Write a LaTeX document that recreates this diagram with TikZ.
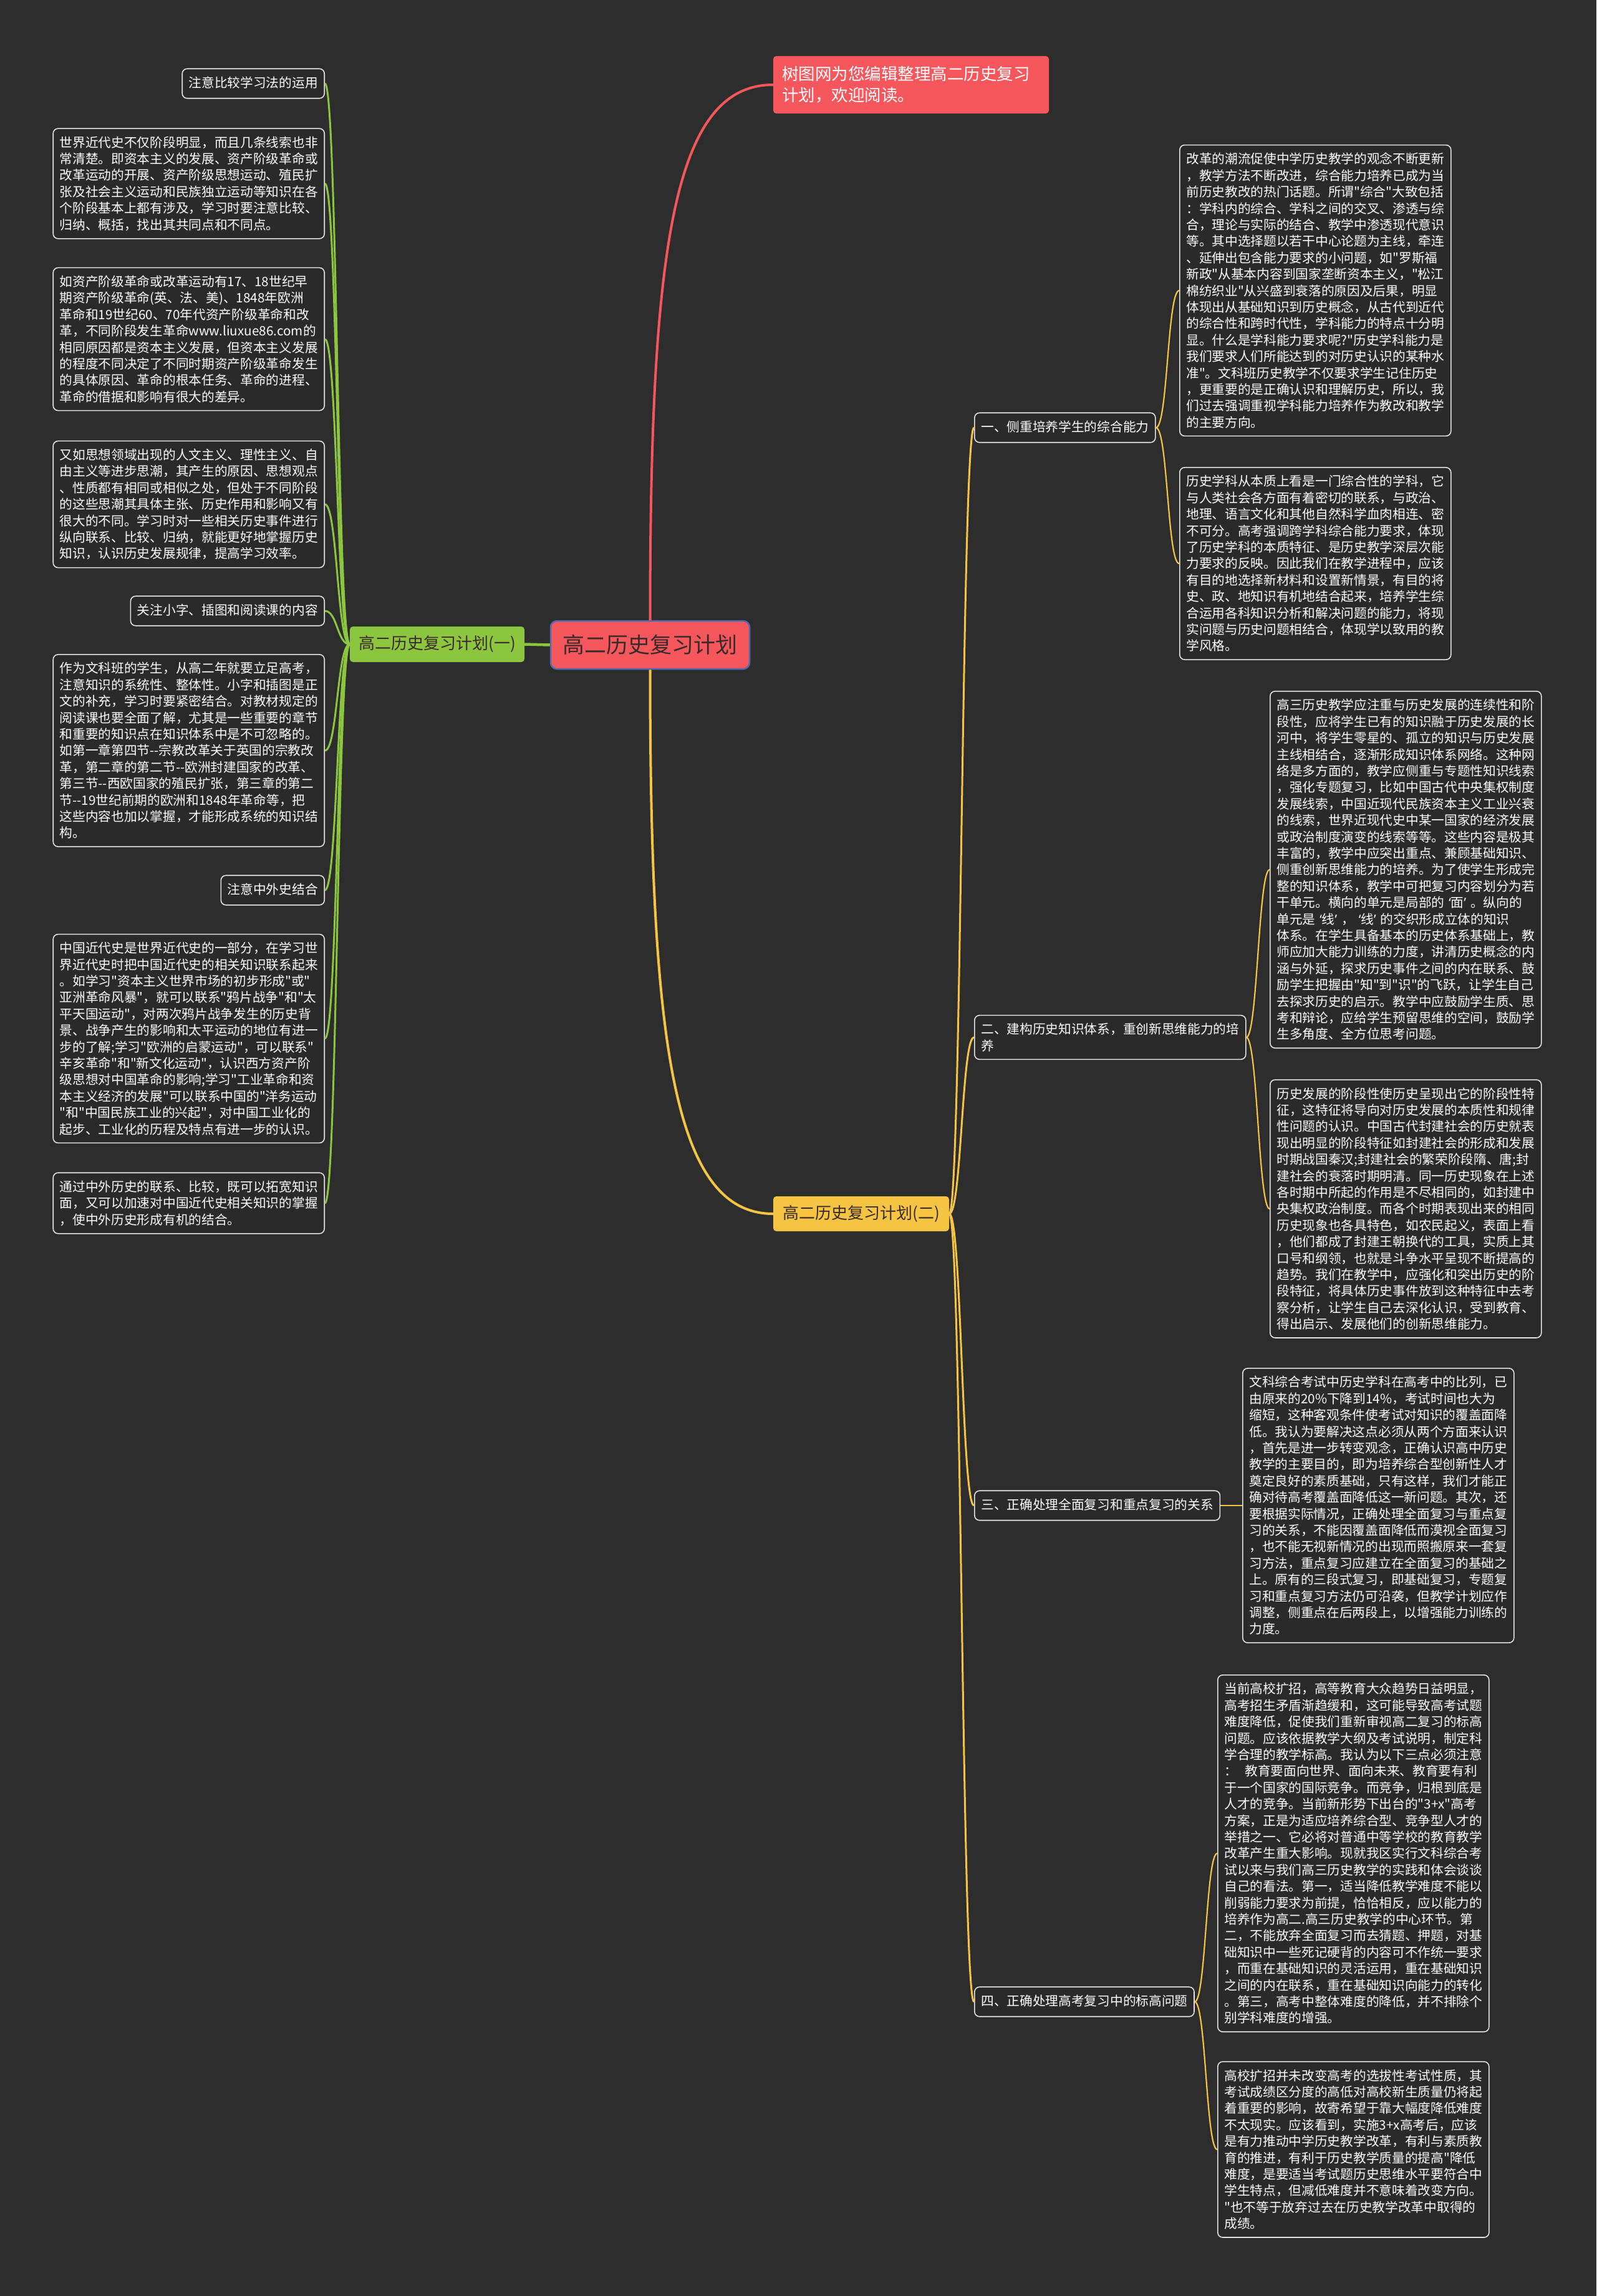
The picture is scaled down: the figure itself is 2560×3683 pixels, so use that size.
\documentclass[tikz,border=0pt]{standalone}
\usepackage{fontspec}
\newfontfamily\cjk{Noto Sans CJK SC}
\newfontfamily\lat{Noto Sans}
\newcommand{\myLq}{{\lat ‘}}
\newcommand{\myRq}{{\lat ’}}
\definecolor{bg}{HTML}{2D2D2D}
\definecolor{boxfill}{HTML}{2A2A2A}
\definecolor{boxline}{HTML}{E4E4E4}
\definecolor{redc}{HTML}{F5575C}
\definecolor{bluec}{HTML}{5468B0}
\definecolor{grn}{HTML}{8CC63F}
\definecolor{ylw}{HTML}{F6C443}
\definecolor{darktxt}{HTML}{3A2A2A}
\tikzset{
  txt/.style={draw=boxline, fill=boxfill, line width=1.6pt, rounded corners=8pt,
    text=white, font=\cjk\fontsize{20.7}{26.4}\selectfont, inner xsep=10.5pt, inner ysep=12.5pt, align=left},
  para/.style={txt, text width=414pt},
  lab/.style={txt, text height=17.5pt, text depth=5pt},
  gl/.style={draw=grn, line width=3pt},
  yl/.style={draw=ylw, line width=3pt},
  yl2/.style={draw=ylw, line width=2.2pt},
}
\begin{document}
\begin{tikzpicture}[x=1pt,y=-1pt]
\cjk
\fill[bg] (0,0) rectangle (2560,3683);
\useasboundingbox (0,0) rectangle (2560,3683);

% central and main nodes
\node[fill=redc, draw=bluec, line width=2.5pt, rounded corners=10pt, text=darktxt,
  font=\cjk\fontsize{35}{42}\selectfont, minimum width=319pt, minimum height=77pt, inner sep=0pt]
  (c) at (1042.5,1034.5) {高二历史复习计划};
\node[fill=redc, rounded corners=5pt, text=white, font=\cjk\fontsize{26.5}{34}\selectfont,
  text width=414pt, inner xsep=14pt, inner ysep=16.5pt, align=left]
  (t) at (1461,136) {树图网为您编辑整理高二历史复习\\计划，欢迎阅读。};
\node[fill=grn, rounded corners=5pt, text=darktxt, font=\cjk\fontsize{26}{32}\selectfont,
  minimum width=280pt, minimum height=57pt, inner sep=0pt]
  (g) at (701,1033.5) {高二历史复习计划(一)};
\node[fill=ylw, rounded corners=5pt, text=darktxt, font=\cjk\fontsize{26}{32}\selectfont,
  minimum width=282pt, minimum height=56pt, inner sep=0pt]
  (y) at (1381,1947) {高二历史复习计划(二)};

% left children
\node[lab, anchor=east] (A) at (521,134) {注意比较学习法的运用};
\node[para, anchor=east] (B) at (521,294.5) {世界近代史不仅阶段明显，而且几条线索也非\\
常清楚。即资本主义的发展、资产阶级革命或\\
改革运动的开展、资产阶级思想运动、殖民扩\\
张及社会主义运动和民族独立运动等知识在各\\
个阶段基本上都有涉及，学习时要注意比较、\\
归纳、概括，找出其共同点和不同点。};
\node[para, anchor=east] (C) at (521,544) {如资产阶级革命或改革运动有17、18世纪早\\
期资产阶级革命(英、法、美)、1848年欧洲\\
革命和19世纪60、70年代资产阶级革命和改\\
革，不同阶段发生革命www.liuxue86.com的\\
相同原因都是资本主义发展，但资本主义发展\\
的程度不同决定了不同时期资产阶级革命发生\\
的具体原因、革命的根本任务、革命的进程、\\
革命的借据和影响有很大的差异。};
\node[para, anchor=east] (D) at (521,809) {又如思想领域出现的人文主义、理性主义、自\\
由主义等进步思潮，其产生的原因、思想观点\\
、性质都有相同或相似之处，但处于不同阶段\\
的这些思潮其具体主张、历史作用和影响又有\\
很大的不同。学习时对一些相关历史事件进行\\
纵向联系、比较、归纳，就能更好地掌握历史\\
知识，认识历史发展规律，提高学习效率。};
\node[lab, anchor=east] (E) at (521,980) {关注小字、插图和阅读课的内容};
\node[para, anchor=east] (F) at (521,1204) {作为文科班的学生，从高二年就要立足高考，\\
注意知识的系统性、整体性。小字和插图是正\\
文的补充，学习时要紧密结合。对教材规定的\\
阅读课也要全面了解，尤其是一些重要的章节\\
和重要的知识点在知识体系中是不可忽略的。\\
如第一章第四节-{}-宗教改革关于英国的宗教改\\
革，第二章的第二节-{}-欧洲封建国家的改革、\\
第三节-{}-西欧国家的殖民扩张，第三章的第二\\
节-{}-19世纪前期的欧洲和1848年革命等，把\\
这些内容也加以掌握，才能形成系统的知识结\\
构。};
\node[lab, anchor=east] (G) at (521,1428) {注意中外史结合};
\node[para, anchor=east] (H) at (521,1666) {中国近代史是世界近代史的一部分，在学习世\\
界近代史时把中国近代史的相关知识联系起来\\
。如学习"资本主义世界市场的初步形成"或"\\
亚洲革命风暴"，就可以联系"鸦片战争"和"太\\
平天国运动"，对两次鸦片战争发生的历史背\\
景、战争产生的影响和太平运动的地位有进一\\
步的了解;学习"欧洲的启蒙运动"，可以联系"\\
辛亥革命"和"新文化运动"，认识西方资产阶\\
级思想对中国革命的影响;学习"工业革命和资\\
本主义经济的发展"可以联系中国的"洋务运动\\
"和"中国民族工业的兴起"，对中国工业化的\\
起步、工业化的历程及特点有进一步的认识。};
\node[para, anchor=east] (I) at (521,1930) {通过中外历史的联系、比较，既可以拓宽知识\\
面，又可以加速对中国近代史相关知识的掌握\\
，使中外历史形成有机的结合。};

% right labels
\node[lab, anchor=west] (L1) at (1562,686) {一、侧重培养学生的综合能力};
\node[para, anchor=west] (L2) at (1562,1664) {二、建构历史知识体系，重创新思维能力的培\\养};
\node[lab, anchor=west] (L3) at (1562,2415) {三、正确处理全面复习和重点复习的关系};
\node[lab, anchor=west] (L4) at (1562,3211) {四、正确处理高考复习中的标高问题};

% right paragraphs
\node[para, anchor=west] (R1) at (1891,466) {改革的潮流促使中学历史教学的观念不断更新\\
，教学方法不断改进，综合能力培养已成为当\\
前历史教改的热门话题。所谓"综合"大致包括\\
：学科内的综合、学科之间的交叉、渗透与综\\
合，理论与实际的结合、教学中渗透现代意识\\
等。其中选择题以若干中心论题为主线，牵连\\
、延伸出包含能力要求的小问题，如"罗斯福\\
新政"从基本内容到国家垄断资本主义，"松江\\
棉纺织业"从兴盛到衰落的原因及后果，明显\\
体现出从基础知识到历史概念，从古代到近代\\
的综合性和跨时代性，学科能力的特点十分明\\
显。什么是学科能力要求呢?"历史学科能力是\\
我们要求人们所能达到的对历史认识的某种水\\
准"。文科班历史教学不仅要求学生记住历史\\
，更重要的是正确认识和理解历史，所以，我\\
们过去强调重视学科能力培养作为教改和教学\\
的主要方向。};
\node[para, anchor=west] (R2) at (1891,904) {历史学科从本质上看是一门综合性的学科，它\\
与人类社会各方面有着密切的联系，与政治、\\
地理、语言文化和其他自然科学血肉相连、密\\
不可分。高考强调跨学科综合能力要求，体现\\
了历史学科的本质特征、是历史教学深层次能\\
力要求的反映。因此我们在教学进程中，应该\\
有目的地选择新材料和设置新情景，有目的将\\
史、政、地知识有机地结合起来，培养学生综\\
合运用各科知识分析和解决问题的能力，将现\\
实问题与历史问题相结合，体现学以致用的教\\
学风格。};
\node[para, anchor=west] (R3) at (2036,1395) {高三历史教学应注重与历史发展的连续性和阶\\
段性，应将学生已有的知识融于历史发展的长\\
河中，将学生零星的、孤立的知识与历史发展\\
主线相结合，逐渐形成知识体系网络。这种网\\
络是多方面的，教学应侧重与专题性知识线索\\
，强化专题复习，比如中国古代中央集权制度\\
发展线索，中国近现代民族资本主义工业兴衰\\
的线索，世界近现代史中某一国家的经济发展\\
或政治制度演变的线索等等。这些内容是极其\\
丰富的，教学中应突出重点、兼顾基础知识、\\
侧重创新思维能力的培养。为了使学生形成完\\
整的知识体系，教学中可把复习内容划分为若\\
干单元。横向的单元是局部的~\myLq 面\myRq~。纵向的\\
单元是~\myLq 线\myRq~，~\myLq 线\myRq~的交织形成立体的知识\\
体系。在学生具备基本的历史体系基础上，教\\
师应加大能力训练的力度，讲清历史概念的内\\
涵与外延，探求历史事件之间的内在联系、鼓\\
励学生把握由"知"到"识"的飞跃，让学生自己\\
去探求历史的启示。教学中应鼓励学生质、思\\
考和辩论，应给学生预留思维的空间，鼓励学\\
生多角度、全方位思考问题。};
\node[para, anchor=west] (R4) at (2036,1939) {历史发展的阶段性使历史呈现出它的阶段性特\\
征，这特征将导向对历史发展的本质性和规律\\
性问题的认识。中国古代封建社会的历史就表\\
现出明显的阶段特征如封建社会的形成和发展\\
时期战国秦汉;封建社会的繁荣阶段隋、唐;封\\
建社会的衰落时期明清。同一历史现象在上述\\
各时期中所起的作用是不尽相同的，如封建中\\
央集权政治制度。而各个时期表现出来的相同\\
历史现象也各具特色，如农民起义，表面上看\\
，他们都成了封建王朝换代的工具，实质上其\\
口号和纲领，也就是斗争水平呈现不断提高的\\
趋势。我们在教学中，应强化和突出历史的阶\\
段特征，将具体历史事件放到这种特征中去考\\
察分析，让学生自己去深化认识，受到教育、\\
得出启示、发展他们的创新思维能力。};
\node[para, anchor=west] (R5) at (1992,2415) {文科综合考试中历史学科在高考中的比列，已\\
由原来的20\%下降到14\%，考试时间也大为\\
缩短，这种客观条件使考试对知识的覆盖面降\\
低。我认为要解决这点必须从两个方面来认识\\
，首先是进一步转变观念，正确认识高中历史\\
教学的主要目的，即为培养综合型创新性人才\\
奠定良好的素质基础，只有这样，我们才能正\\
确对待高考覆盖面降低这一新问题。其次，还\\
要根据实际情况，正确处理全面复习与重点复\\
习的关系，不能因覆盖面降低而漠视全面复习\\
，也不能无视新情况的出现而照搬原来一套复\\
习方法，重点复习应建立在全面复习的基础之\\
上。原有的三段式复习，即基础复习，专题复\\
习和重点复习方法仍可沿袭，但教学计划应作\\
调整，侧重点在后两段上，以增强能力训练的\\
力度。};
\node[para, anchor=west] (R6) at (1952,2973) {当前高校扩招，高等教育大众趋势日益明显，\\
高考招生矛盾渐趋缓和，这可能导致高考试题\\
难度降低，促使我们重新审视高二复习的标高\\
问题。应该依据教学大纲及考试说明，制定科\\
学合理的教学标高。我认为以下三点必须注意\\
：\hspace{0.6em}教育要面向世界、面向未来、教育要有利\\
于一个国家的国际竞争。而竞争，归根到底是\\
人才的竞争。当前新形势下出台的"3+x"高考\\
方案，正是为适应培养综合型、竞争型人才的\\
举措之一、它必将对普通中等学校的教育教学\\
改革产生重大影响。现就我区实行文科综合考\\
试以来与我们高三历史教学的实践和体会谈谈\\
自己的看法。第一，适当降低教学难度不能以\\
削弱能力要求为前提，恰恰相反，应以能力的\\
培养作为高二.高三历史教学的中心环节。第\\
二，不能放弃全面复习而去猜题、押题，对基\\
础知识中一些死记硬背的内容可不作统一要求\\
，而重在基础知识的灵活运用，重在基础知识\\
之间的内在联系，重在基础知识向能力的转化\\
。第三，高考中整体难度的降低，并不排除个\\
别学科难度的增强。};
\node[para, anchor=west] (R7) at (1952,3448) {高校扩招并未改变高考的选拔性考试性质，其\\
考试成绩区分度的高低对高校新生质量仍将起\\
着重要的影响，故寄希望于靠大幅度降低难度\\
不太现实。应该看到，实施3+x高考后，应该\\
是有力推动中学历史教学改革，有利与素质教\\
育的推进，有利于历史教学质量的提高"降低\\
难度，是要适当考试题历史思维水平要符合中\\
学生特点，但减低难度并不意味着改变方向。\\
"也不等于放弃过去在历史教学改革中取得的\\
成绩。};

% connectors
\draw[draw=grn, line width=4.5pt] (c.west) -- (g.east);
\draw[draw=redc, line width=4pt] (c.north) .. controls +(0,-600) and +(-160,0) .. (t.west);
\draw[draw=ylw, line width=4pt] (c.south) .. controls +(0,600) and +(-160,0) .. (y.west);
\foreach \n in {A,B,C,D,E,F,G,H,I}
  \draw[gl] (g.west) .. controls +(-20,0) and +(20,0) .. (\n.east);
\foreach \n in {L1,L2,L3,L4}
  \draw[yl] (y.east) .. controls +(20,0) and +(-20,0) .. (\n.west);
\draw[yl2] (L1.east) .. controls +(19,0) and +(-19,0) .. (R1.west);
\draw[yl2] (L1.east) .. controls +(19,0) and +(-19,0) .. (R2.west);
\draw[yl2] (L2.east) .. controls +(18,0) and +(-18,0) .. (R3.west);
\draw[yl2] (L2.east) .. controls +(18,0) and +(-18,0) .. (R4.west);
\draw[yl2] (L3.east) .. controls +(19,0) and +(-19,0) .. (R5.west);
\draw[yl2] (L4.east) .. controls +(18,0) and +(-18,0) .. (R6.west);
\draw[yl2] (L4.east) .. controls +(18,0) and +(-18,0) .. (R7.west);
\end{tikzpicture}
\end{document}
